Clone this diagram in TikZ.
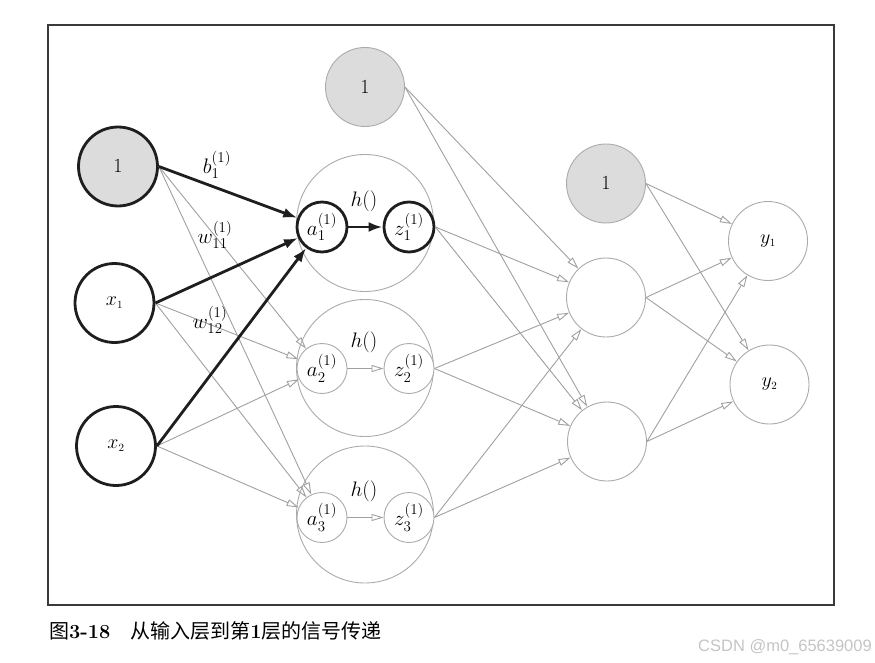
\RequirePackage{fix-cm}
\documentclass[tikz,border=0pt]{standalone}
\usepackage{fontspec}
\usepackage{amsmath}
\newfontfamily\cjk{Noto Sans CJK SC}
\newfontfamily\wmfont{Liberation Sans}
\usetikzlibrary{arrows.meta}
\DeclareMathSizes{20}{20}{11}{9}
\DeclareMathSizes{21}{21}{15}{11}
\definecolor{edgegray}{HTML}{A0A0A0}
\definecolor{circgray}{HTML}{ABABAB}
\definecolor{nodefill}{HTML}{DCDCDC}
\definecolor{boldblack}{HTML}{1E1E1E}
\definecolor{framegray}{HTML}{3A3A3A}
\definecolor{wmgray}{HTML}{C4C4C4}
\begin{document}
\begin{tikzpicture}[x=1pt,y=-1pt,
  every node/.style={font=\fontsize{20}{23}\selectfont},
  neuron/.style={circle, draw=circgray, line width=0.9pt, fill=white, inner sep=0pt, minimum size=79pt},
  small/.style={circle, draw=circgray, line width=0.9pt, fill=white, inner sep=0pt, minimum size=50pt, font=\fontsize{21}{24}\selectfont},
  hcirc/.style={circle, draw=circgray, line width=0.9pt, inner sep=0pt, minimum size=137pt},
  boldnode/.style={draw=boldblack, line width=2.8pt},
  biasnode/.style={fill=nodefill},
  gedge/.style={draw=edgegray, line width=0.9pt, -{Triangle[open, length=12pt, width=7pt]}},
  bedge/.style={draw=boldblack, line width=2.8pt, -{Latex[length=14pt, width=10pt]}},
  wlabel/.style={inner sep=0pt, font=\fontsize{21}{24}\selectfont}
]
\useasboundingbox (0,0) rectangle (875,663);
\node[draw=framegray, line width=1.3pt, minimum width=786pt, minimum height=580pt, inner sep=0pt] (frame) at (441,315) {};

% hidden layer containers
\node[hcirc] (h1) at (365,223) {};
\node[hcirc] (h2) at (365,368) {};
\node[hcirc] (h3) at (365,514.5) {};
\node[wlabel] (hl1) at (364,201) {$h()$};
\node[wlabel] (hl2) at (364,342) {$h()$};
\node[wlabel] (hl3) at (364,491) {$h()$};

% input layer
\node[neuron, boldnode, biasnode] (b0) at (118,166.5) {$1$};
\node[neuron, boldnode] (x1) at (114.5,303) {$x_1$};
\node[neuron, boldnode] (x2) at (116,446) {$x_2$};

% layer 1
\node[neuron, biasnode] (b1) at (365,87) {$1$};
\node[small, boldnode] (a1) at (322,227) {$a_1^{(1)}$};
\node[small, boldnode] (z1) at (409,227) {$z_1^{(1)}$};
\node[small] (a2) at (322,368.5) {$a_2^{(1)}$};
\node[small] (z2) at (409,368.5) {$z_2^{(1)}$};
\node[small] (a3) at (322,517.5) {$a_3^{(1)}$};
\node[small] (z3) at (409,517.5) {$z_3^{(1)}$};

% layer 2
\node[neuron, biasnode] (b2) at (606,183.5) {$1$};
\node[neuron] (m1) at (606,297.5) {};
\node[neuron] (m2) at (607,441.5) {};

% output
\node[neuron] (y1) at (768,241) {$y_1$};
\node[neuron] (y2) at (769.5,384.5) {$y_2$};

% gray edges input -> a2, a3
\foreach \s in {b0,x1,x2}{
  \draw[gedge] (\s.east) -- (a2);
  \draw[gedge] (\s.east) -- (a3);
}
\draw[gedge] (a2) -- (z2);
\draw[gedge] (a3) -- (z3);
% layer1 -> layer2
\foreach \s in {b1,z1,z2,z3}{
  \draw[gedge] (\s.east) -- (m1);
  \draw[gedge] (\s.east) -- (m2);
}
% layer2 -> output
\foreach \s in {b2,m1,m2}{
  \draw[gedge] (\s.east) -- (y1);
  \draw[gedge] (\s.east) -- (y2);
}
% bold edges
\draw[bedge] (b0.east) -- (a1);
\draw[bedge] (x1.east) -- (a1);
\draw[bedge] (x2.east) -- (a1);
\draw[bedge] (a1) -- (z1);

% weight labels
\node[wlabel] (lb) at (217,165) {$b_1^{(1)}$};
\node[wlabel] (lw11) at (215,235) {$w_{11}^{(1)}$};
\node[wlabel] (lw12) at (210,320) {$w_{12}^{(1)}$};

% caption
\node[anchor=west, inner sep=0pt, font=\fontsize{20}{23}\selectfont] (cap) at (49,631)
  {{\cjk 图}\textbf{3-18}\hspace{1em}{\cjk 从输入层到第}\textbf{1}{\cjk 层的信号传递}};
\node[anchor=east, inner sep=0pt, text=wmgray, font=\wmfont\fontsize{16.5}{19}\selectfont] (wm) at (872,647) {CSDN @m0\_65639009};
\end{tikzpicture}
\end{document}
